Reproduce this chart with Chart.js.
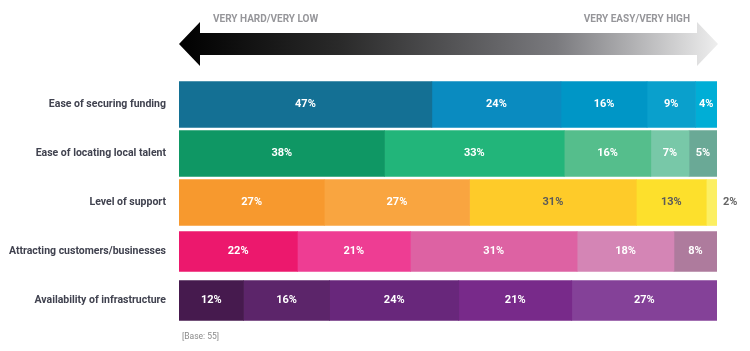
<!DOCTYPE html>
<html>
<head>
<meta charset="utf-8">
<script src="https://cdn.jsdelivr.net/npm/chart.js@4"></script>
<style>
  html, body { margin: 0; padding: 0; background: #fff; }
  #wrap { width: 750px; height: 351px; position: relative; }
</style>
</head>
<body>
<div id="wrap"><canvas id="barChart"></canvas></div>
<script>
const categories = [
  "Ease of securing funding",
  "Ease of locating local talent",
  "Level of support",
  "Attracting customers/businesses",
  "Availability of infrastructure"
];

// share of answers, from very hard/very low (seg1) to very easy/very high (seg5)
// row 2 printed labels add up to 99, bar lengths
const seg1 = [47, 38.2, 27, 22, 12];
const seg2 = [24, 33.4, 27, 21, 16];
const seg3 = [16, 16.1, 31, 31, 24];
const seg4 = [9, 7.1, 13, 18, 21];
const seg5 = [4, 5.2, 2, 8, 27];

const seg1Colors = ["#147094", "#0f9764", "#f7992e", "#ec186d", "#461a4e"];
const seg2Colors = ["#0a8bc0", "#22b57a", "#f9a540", "#ee3d93", "#5c256a"];
const seg3Colors = ["#0096c6", "#55be8c", "#fecb29", "#dd62a3", "#68277b"];
const seg4Colors = ["#0aa0cc", "#78c8a8", "#fde02c", "#d485b5", "#782a8a"];
const seg5Colors = ["#00aed6", "#6aa996", "#fcef62", "#ae7b9d", "#844198"];

const FONT = "Roboto, sans-serif";

// the last two rows are drawn a bit thinner in the original
const thinRows = [3, 4];

function makeSets(seg, label, data, colors) {
  const thick = data.map((v, i) => thinRows.includes(i) ? null : v);
  const thin = data.map((v, i) => thinRows.includes(i) ? v : null);
  return [
    { label: label, seg: seg, data: thick, backgroundColor: colors, borderWidth: 0, barThickness: 46, grouped: false },
    { label: label, seg: seg, data: thin, backgroundColor: colors, borderWidth: 0, barThickness: 40, grouped: false }
  ];
}

// arrow + captions above the bars
const arrowPlugin = {
  id: "arrow",
  afterDraw(chart) {
    const ctx = chart.ctx;
    const left = chart.chartArea.left;
    const right = chart.chartArea.right + 1;
    const cy = 44;
    const head = 21;
    const g = ctx.createLinearGradient(left, 0, right, 0);
    g.addColorStop(0, "#000000");
    g.addColorStop(0.3, "#2a2a2a");
    g.addColorStop(0.7, "#7a7a7e");
    g.addColorStop(1, "#eeeeee");
    ctx.save();
    ctx.fillStyle = g;
    ctx.beginPath();
    ctx.moveTo(left, cy);
    ctx.lineTo(left + head, cy - 22);
    ctx.lineTo(left + head, cy - 11);
    ctx.lineTo(right - head, cy - 11);
    ctx.lineTo(right - head, cy - 22);
    ctx.lineTo(right, cy);
    ctx.lineTo(right - head, cy + 22);
    ctx.lineTo(right - head, cy + 11);
    ctx.lineTo(left + head, cy + 11);
    ctx.lineTo(left + head, cy + 22);
    ctx.closePath();
    ctx.fill();

    ctx.fillStyle = "#96969a";
    ctx.font = "bold 10px " + FONT;
    ctx.textBaseline = "middle";
    ctx.textAlign = "left";
    ctx.fillText("VERY HARD/VERY LOW", left + 34, 19);
    ctx.textAlign = "right";
    ctx.fillText("VERY EASY/VERY HIGH", right - 28, 19);

    ctx.fillStyle = "#8a8a8a";
    ctx.font = "8.5px " + FONT;
    ctx.textAlign = "left";
    ctx.fillText("[Base: 55]", left + 3, 337);
    ctx.restore();
  }
};

// percentage labels on each segment
const valueLabels = {
  id: "valueLabels",
  afterDatasetsDraw(chart) {
    const ctx = chart.ctx;
    ctx.save();
    ctx.font = "bold 11px " + FONT;
    ctx.textBaseline = "middle";
    chart.data.datasets.forEach((ds, di) => {
      const meta = chart.getDatasetMeta(di);
      meta.data.forEach((bar, i) => {
        const v = ds.data[i];
        if (v === null || v === undefined) return;
        const txt = Math.round(v) + "%";
        if (v < 3) {
          ctx.fillStyle = "#666666";
          ctx.textAlign = "left";
          ctx.fillText(txt, bar.x + 6, bar.y);
        } else {
          ctx.fillStyle = (i === 2 && ds.seg >= 3) ? "#5a5a5a" : "#ffffff";
          ctx.textAlign = "center";
          ctx.fillText(txt, (bar.x + bar.base) / 2, bar.y);
        }
      });
    });
    ctx.restore();
  }
};

new Chart("barChart", {
  type: "bar",
  data: {
    labels: categories,
    datasets: [].concat(
      makeSets(1, "Very hard", seg1, seg1Colors),
      makeSets(2, "Hard", seg2, seg2Colors),
      makeSets(3, "Neutral", seg3, seg3Colors),
      makeSets(4, "Easy", seg4, seg4Colors),
      makeSets(5, "Very easy", seg5, seg5Colors)
    )
  },
  options: {
    indexAxis: "y",
    responsive: true,
    maintainAspectRatio: false,
    animation: false,
    layout: { padding: { top: 80, bottom: 26, right: 33, left: 0 } },
    plugins: {
      legend: { display: false },
      tooltip: { enabled: false }
    },
    scales: {
      x: {
        stacked: true,
        min: 0,
        max: 100,
        display: false
      },
      y: {
        stacked: true,
        grid: { display: false, drawTicks: false },
        border: { display: false },
        ticks: {
          padding: 13,
          color: "#40424f",
          font: { family: FONT, size: 10.5, weight: "bold" }
        },
        afterFit(scale) {
          scale.width = 179;
        }
      }
    }
  },
  plugins: [arrowPlugin, valueLabels]
});
</script>
</body>
</html>
